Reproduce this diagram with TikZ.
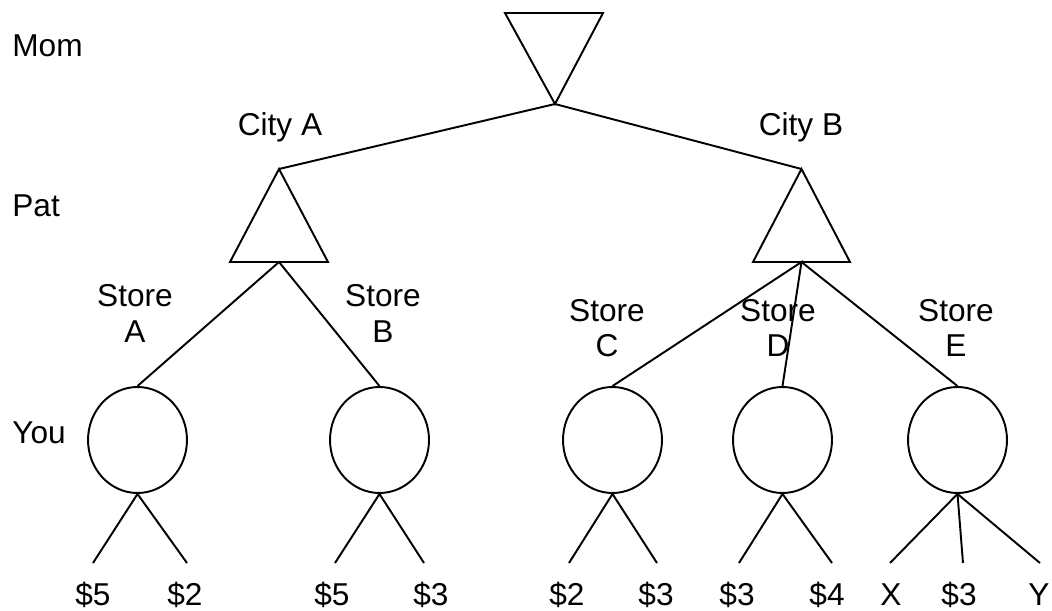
\documentclass[tikz,border=0pt]{standalone}
\usepackage{fontspec}
\setmainfont{Liberation Sans}
\usetikzlibrary{shapes.geometric}
\tikzset{
  ln/.style={line width=1.1pt, line join=miter},
  lbl/.style={font=\fontsize{18}{20}\selectfont, inner sep=0pt, anchor=base},
  lblw/.style={lbl, anchor=base west},
  stlbl/.style={font=\fontsize{18}{20}\selectfont, inner sep=0pt, align=center, anchor=base},
  chance/.style={ellipse, draw, line width=1.1pt, minimum width=1.98cm, minimum height=2.12cm, inner sep=0pt}
}
\begin{document}
\begin{tikzpicture}[x=0.02cm, y=-0.02cm]
\useasboundingbox (0,0) rectangle (1052,611);
% Mom (inverted triangle)
\coordinate (mtl) at (505,13);
\coordinate (mtr) at (603,13);
\coordinate (mom) at (555,104);
\draw[ln] (mtl) -- (mtr) -- (mom) -- cycle;
% Pat triangles
\coordinate (pa) at (279,169);
\coordinate (pabl) at (230,262);
\coordinate (pabr) at (328,262);
\coordinate (pab) at (279,262);
\draw[ln] (pa) -- (pabr) -- (pabl) -- cycle;
\coordinate (pb) at (801.5,169);
\coordinate (pbbl) at (753,262);
\coordinate (pbbr) at (850,262);
\coordinate (pbb) at (801.5,262);
\draw[ln] (pb) -- (pbbr) -- (pbbl) -- cycle;
\draw[ln] (pa) -- (mom) -- (pb);
% You circles
\node[chance] (ca) at (137.5,440) {};
\node[chance] (cb) at (379.5,440) {};
\node[chance] (cc) at (612.5,440) {};
\node[chance] (cd) at (782.5,440) {};
\node[chance] (ce) at (957.5,440) {};
\draw[ln] (ca.north) -- (pab) -- (cb.north);
\draw[ln] (cc.north) -- (pbb) -- (cd.north);
\draw[ln] (pbb) -- (ce.north);
% leaves
\coordinate (a1) at (93,563);  \coordinate (a2) at (187,563);
\coordinate (b1) at (335,563); \coordinate (b2) at (424,563);
\coordinate (c1) at (569,563); \coordinate (c2) at (657,563);
\coordinate (d1) at (739,563); \coordinate (d2) at (832,563);
\coordinate (e1) at (890,563); \coordinate (e2) at (963,563); \coordinate (e3) at (1040,563);
\draw[ln] (a1) -- (ca.south) -- (a2);
\draw[ln] (b1) -- (cb.south) -- (b2);
\draw[ln] (c1) -- (cc.south) -- (c2);
\draw[ln] (d1) -- (cd.south) -- (d2);
\draw[ln] (e1) -- (ce.south) -- (e3);
\draw[ln] (ce.south) -- (e2);
% row labels
\node[lblw] (tmom) at (12,57) {Mom};
\node[lblw] (tpat) at (12,217) {Pat};
\node[lblw] (tyou) at (12,443) {You};
% edge labels
\node[lbl] (tca) at (280,136) {City A};
\node[lbl] (tcb) at (801,136) {City B};
\node[stlbl] (tsa) at (135,342) {Store\\A};
\node[stlbl] (tsb) at (383,342) {Store\\B};
\node[stlbl] (tsc) at (607,357) {Store\\C};
\node[stlbl] (tsd) at (778,357) {Store\\D};
\node[stlbl] (tse) at (956,357) {Store\\E};
% payoffs
\node[lbl] (va1) at (93,605) {\$5};
\node[lbl] (va2) at (185,605) {\$2};
\node[lbl] (vb1) at (332,605) {\$5};
\node[lbl] (vb2) at (431,605) {\$3};
\node[lbl] (vc1) at (567,605) {\$2};
\node[lbl] (vc2) at (656,605) {\$3};
\node[lbl] (vd1) at (737,605) {\$3};
\node[lbl] (vd2) at (827,605) {\$4};
\node[lbl] (ve1) at (891,605) {X};
\node[lbl] (ve2) at (959,605) {\$3};
\node[lbl] (ve3) at (1039,605) {Y};
\end{tikzpicture}
\end{document}
